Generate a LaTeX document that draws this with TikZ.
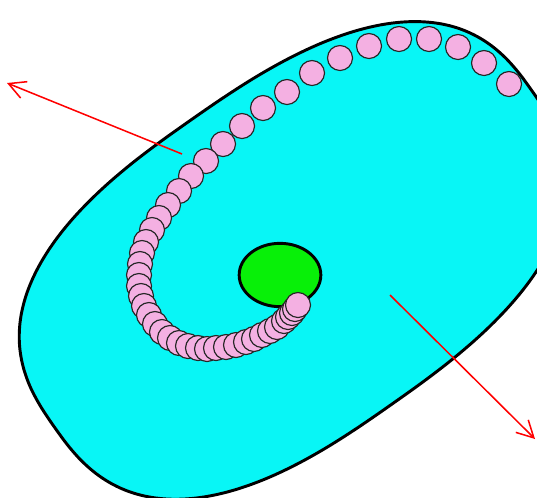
\documentclass[tikz,border=0pt]{standalone}
\usetikzlibrary{arrows.meta, shapes.geometric}
\definecolor{ccyan}{HTML}{08F6F6}
\definecolor{cgreen}{HTML}{08F008}
\definecolor{cpink}{HTML}{F4B0E2}
\definecolor{cred}{HTML}{FF0000}
\tikzset{
  every picture/.style={x=0.03cm, y=-0.03cm},
  cell/.style={draw=black, fill=ccyan, line width=2.5pt},
  nucleus/.style={ellipse, draw=black, fill=cgreen, line width=2.5pt, minimum width=2.45cm, minimum height=1.9cm, inner sep=0pt},
  bead/.style={circle, draw=black!85, fill=cpink, line width=1pt, minimum size=0.75cm, inner sep=0pt},
  arrow/.style={-{Straight Barb[length=5mm, width=5.3mm]}, draw=cred, line width=1.3pt},
}
% rounded, tilted cell outline (superellipse, a bit narrower at the back end)
\newcommand{\cellu}[1]{(292+6*sign(cos(#1)))*sign(cos(#1))*pow(abs(cos(#1)),0.76)}
\newcommand{\cellv}[1]{(174+2*sign(sin(#1)))*sign(sin(#1))*pow(abs(sin(#1)),0.76)}

\begin{document}
\begin{tikzpicture}
  \useasboundingbox (0,0) rectangle (537,497);
  \clip (0,0) rectangle (537,497);
  % cell body
  \draw[cell] plot[domain=0.5:360.5, samples=121, smooth]
    ({288 + 0.819*\cellu{\x} + 0.574*\cellv{\x}},
     {262 - 0.574*\cellu{\x} + 0.819*\cellv{\x}}) -- cycle;
  % nucleus
  \node[nucleus] (nuc) at (280,275) {};
  % chain of beads, spiralling in
  \foreach \x/\y [count=\i] in {509/84, 484/63, 458/47, 429/39, 399/39, 369/46,
      340/58, 312/73, 287/92, 263/108, 242/126, 223/144, 206/161, 191/176,
      179/191, 168/205, 159/218, 152/230, 146/242, 142/253, 140/264, 139/275,
      139/286, 141/296, 144/306, 149/315, 155/324, 162/332, 170/338, 179/343,
      188/346, 198/348, 207/349, 216/348, 226/347, 236/345, 246/342, 254/339,
      262/335, 270/331, 277/327, 284/321, 288/317, 292/313, 295/309, 298/305} {
    \node[bead] (b\i) at (\x,\y) {};
  }
  % axis arrows
  \coordinate (inL) at (182,154);
  \coordinate (outL) at (7,83);
  \coordinate (inR) at (390,295);
  \coordinate (outR) at (535,439);
  \draw[arrow] (inL) -- (outL);
  \draw[arrow] (inR) -- (outR);
\end{tikzpicture}
\end{document}
